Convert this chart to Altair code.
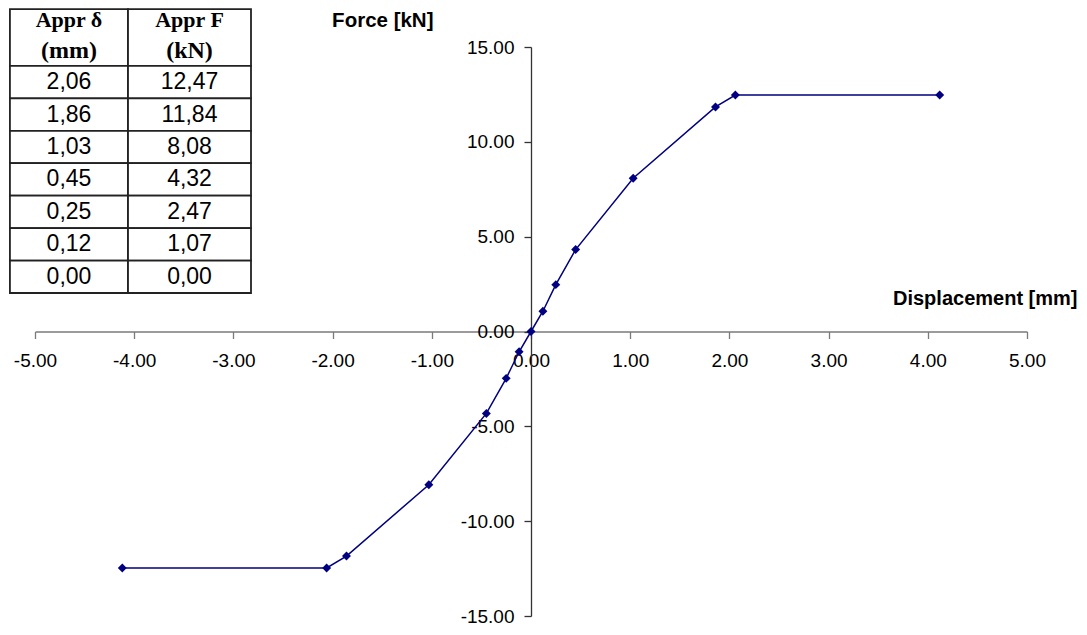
import altair as alt
import pandas as pd

# ---- data ----
disp = [-4.12, -2.06, -1.86, -1.03, -0.45, -0.25, -0.12, 0.00, 0.12, 0.25, 0.45, 1.03, 1.86, 2.06, 4.12]
force = [-12.47, -12.47, -11.84, -8.08, -4.32, -2.47, -1.07, 0.00, 1.07, 2.47, 4.32, 8.08, 11.84, 12.47, 12.47]

tbl_delta = ["2,06", "1,86", "1,03", "0,45", "0,25", "0,12", "0,00"]
tbl_force = ["12,47", "11,84", "8,08", "4,32", "2,47", "1,07", "0,00"]
hdr_delta = ["Appr δ", "(mm)"]
hdr_force = ["Appr F", "(kN)"]

x_ticks = [-5, -4, -3, -2, -1, 0, 1, 2, 3, 4, 5]
y_ticks = [-15, -10, -5, 0, 5, 10, 15]

# ---- tables for the library ----
curve = pd.DataFrame({"i": list(range(len(disp))), "d": disp, "f": force})

n = len(tbl_delta)
cells = []
for c in range(2):
    cells.append({"x0": 0.04 if c == 0 else c, "x1": c + 1, "y0": 0.25, "y1": 2.0})
    for r in range(n):
        cells.append({"x0": 0.04 if c == 0 else c, "x1": c + 1, "y0": 2.0 + r, "y1": 3.0 + r})
cells = pd.DataFrame(cells)

hdr1 = pd.DataFrame({"xc": [0.52, 1.5], "yc": [0.6, 0.6], "t": [hdr_delta[0], hdr_force[0]]})
hdr2 = pd.DataFrame({"xc": [0.52, 1.5], "yc": [1.54, 1.54], "t": [hdr_delta[1], hdr_force[1]]})
body = pd.DataFrame({
    "xc": [0.52] * n + [1.5] * n,
    "yc": [2.5 + r for r in range(n)] * 2,
    "t": tbl_delta + tbl_force,
})

W, H = 992, 569
NAVY = "#000080"
AX = "#7a7a7a"
FONT = "Liberation Sans"
LBL = "(datum.value < 0 ? '-' : '') + format(abs(datum.value), '.2f')"

xs = alt.Scale(domain=[-5, 5], nice=False, zero=False)
ys = alt.Scale(domain=[-15, 15], nice=False, zero=False)

x_axis = alt.Axis(
    values=x_ticks, labelExpr=LBL, offset=-H / 2, grid=False,
    domainColor=AX, domainWidth=1.3, tickColor=AX, tickWidth=1.3, tickSize=7,
    labelFont=FONT, labelFontSize=19, labelColor="black", labelPadding=13,
    labelFlush=False, labelOverlap=False,
    title="Displacement [mm]", titleFont=FONT, titleFontSize=20, titleFontWeight="bold",
    titleColor="black", titleX=1042, titleY=-33, titleAlign="right", titleBaseline="middle",
)
y_axis = alt.Axis(
    values=y_ticks, labelExpr=LBL, offset=-W / 2, grid=False,
    domainColor="#333333", domainWidth=1.3, tickColor="#333333", tickWidth=1.3, tickSize=7,
    labelFont=FONT, labelFontSize=19, labelColor="black", labelPadding=10,
    labelFlush=False, labelOverlap=False,
    title="Force [kN]", titleFont=FONT, titleFontSize=20.5, titleFontWeight="bold",
    titleColor="black", titleAngle=0, titleX=-98, titleY=-27, titleAlign="right",
    titleBaseline="middle",
)

base = alt.Chart(curve).encode(
    x=alt.X("d:Q", scale=xs, axis=x_axis),
    y=alt.Y("f:Q", scale=ys, axis=y_axis),
    order=alt.Order("i:Q"),
)
line = base.mark_line(color=NAVY, strokeWidth=1.5)
pts = base.mark_point(shape="diamond", filled=True, color=NAVY, size=80, opacity=1)
curve_layer = alt.layer(line, pts)

tx = alt.Scale(domain=[0, 2], range=[-30, 216], nice=False, zero=False)
ty = alt.Scale(domain=[0, 9], range=[-46, 246], nice=False, zero=False)

rects = alt.Chart(cells).mark_rect(fill="white", stroke="#222222", strokeWidth=1.8).encode(
    x=alt.X("x0:Q", scale=tx, axis=None),
    x2="x1:Q",
    y=alt.Y("y0:Q", scale=ty, axis=None),
    y2="y1:Q",
)
hdr1_text = alt.Chart(hdr1).mark_text(
    font="Liberation Serif", fontWeight="bold", fontSize=22, color="black", baseline="middle", align="center"
).encode(
    x=alt.X("xc:Q", scale=tx, axis=None),
    y=alt.Y("yc:Q", scale=ty, axis=None),
    text="t:N",
)
hdr2_text = alt.Chart(hdr2).mark_text(
    font="Liberation Serif", fontWeight="bold", fontSize=24, color="black", baseline="middle", align="center"
).encode(
    x=alt.X("xc:Q", scale=tx, axis=None),
    y=alt.Y("yc:Q", scale=ty, axis=None),
    text="t:N",
)
body_text = alt.Chart(body).mark_text(
    font=FONT, fontSize=23, color="black", baseline="middle", align="center"
).encode(
    x=alt.X("xc:Q", scale=tx, axis=None),
    y=alt.Y("yc:Q", scale=ty, axis=None),
    text="t:N",
)
table_layer = alt.layer(rects, hdr1_text, hdr2_text, body_text)

chart = alt.layer(curve_layer, table_layer).resolve_scale(
    x="independent", y="independent"
).properties(
    width=W, height=H,
    autosize=alt.AutoSizeParams(type="none"),
    padding={"left": 27, "top": 39, "right": 52, "bottom": 11},
    background="white",
).configure_view(stroke=None)

chart.save("out.html", embed_options={"renderer": "svg", "actions": False})
